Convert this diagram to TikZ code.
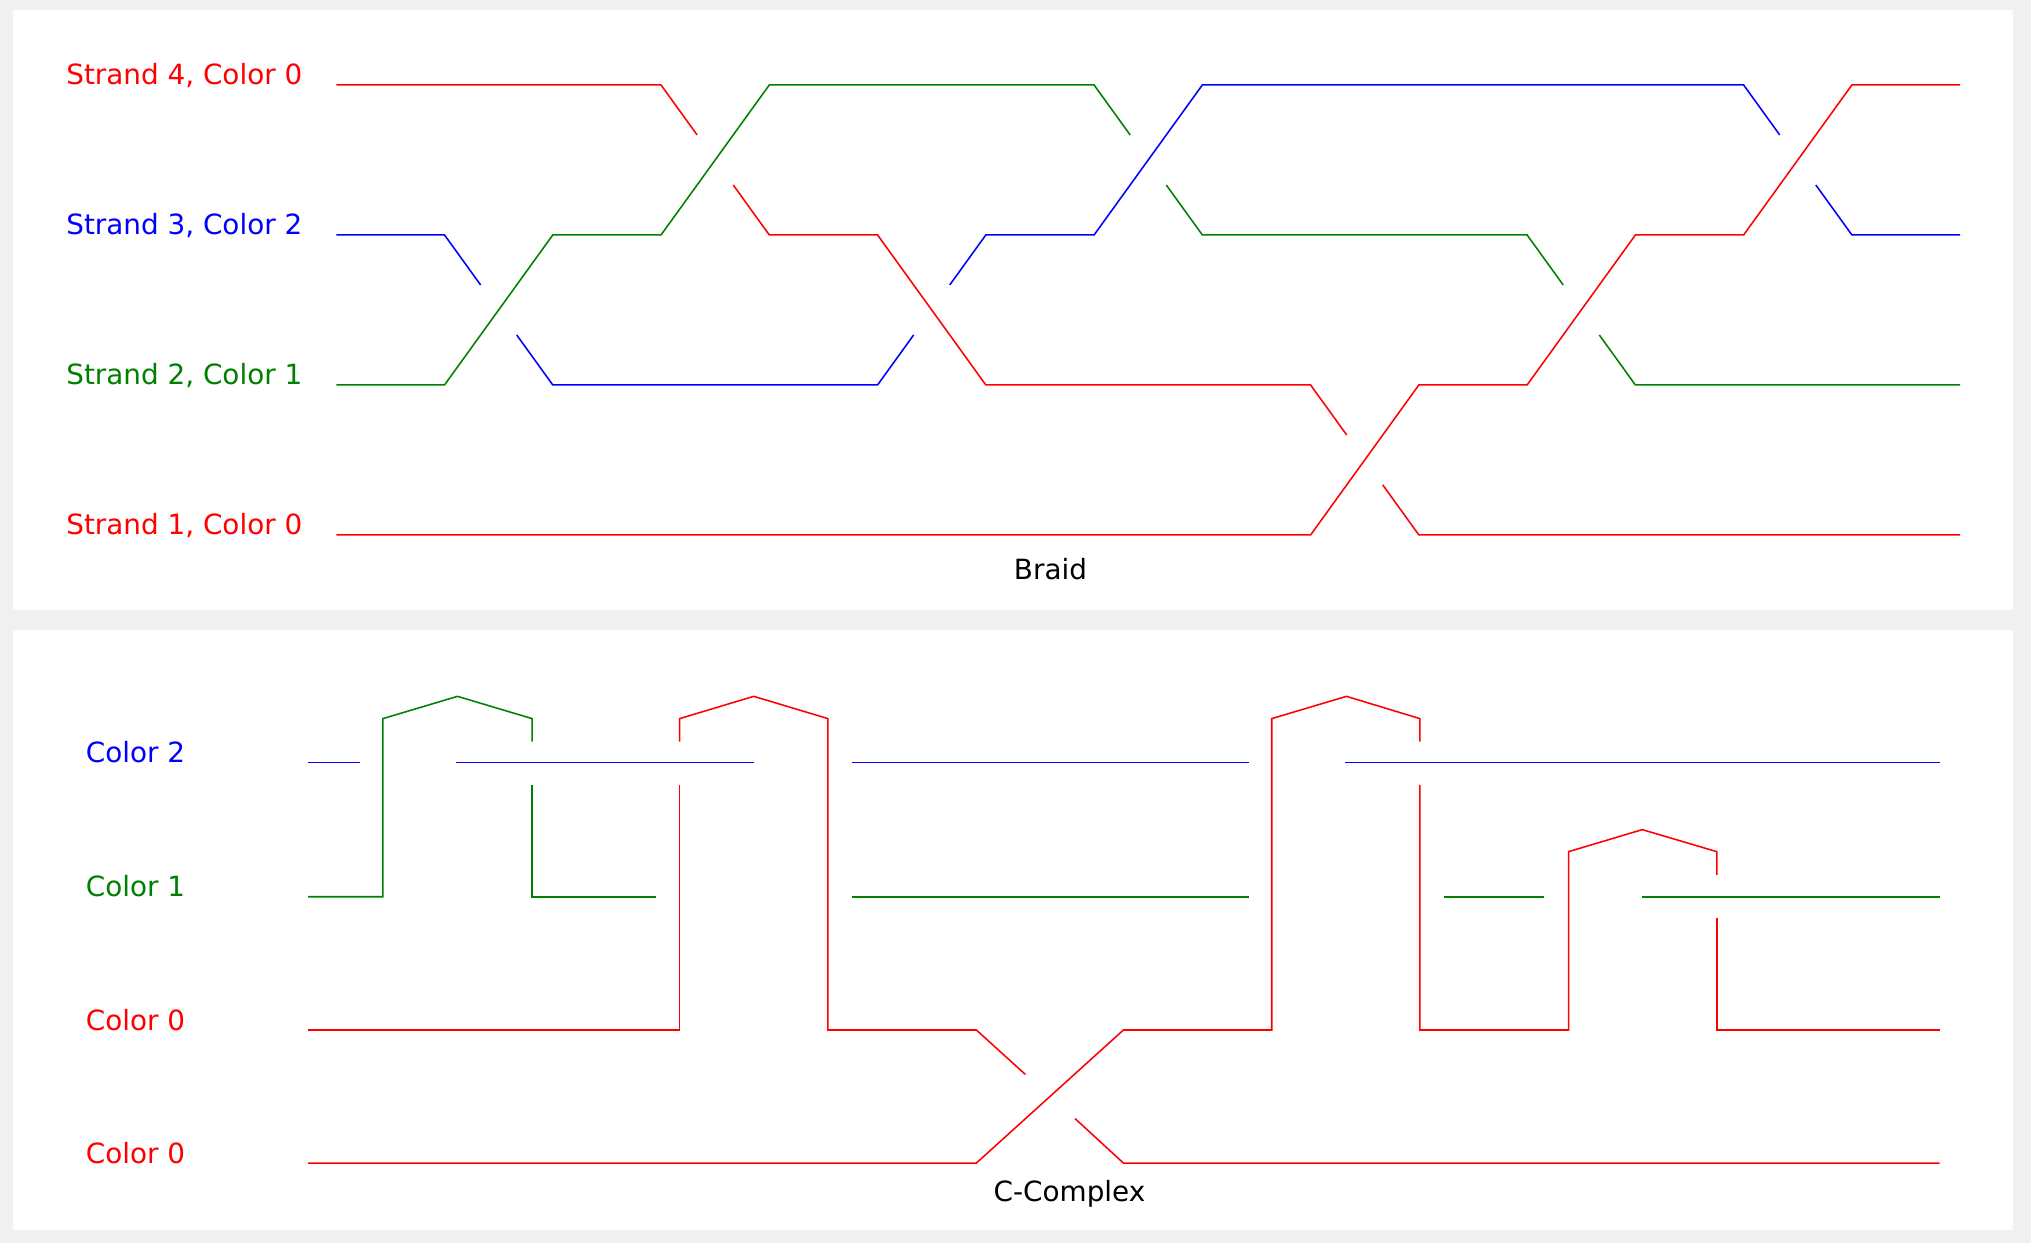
\documentclass[tikz,border=0pt]{standalone}
\usepackage{fontspec}
\setmainfont{DejaVu Sans}
\usetikzlibrary{calc}
\definecolor{mgreen}{HTML}{008000}
\definecolor{mred}{HTML}{FF0000}
\definecolor{mblue}{HTML}{0000FF}
\definecolor{bggray}{HTML}{F0F0F0}
\begin{document}
\begin{tikzpicture}[x=1pt,y=-1pt,
  strandline/.style={line width=1.2pt},
  cr/.style={strandline,draw=mred},
  cb/.style={strandline,draw=mblue},
  cg/.style={strandline,draw=mgreen},
  lbl/.style={inner sep=0pt,anchor=base west,font=\fontsize{21.5}{26}\selectfont},
  ttl/.style={inner sep=0pt,anchor=base,font=\fontsize{21.5}{26}\selectfont,text=black},
  panel/.style={fill=white,draw=none}]
\useasboundingbox (0,0) rectangle (1568,959.6);
\fill[bggray] (0,0) rectangle (1568,959.6);
\fill[panel] (9.7,7.7) rectangle (1553.7,470.9);
\fill[panel] (9.7,486.4) rectangle (1553.7,949.6);

% ---------- Braid ----------
\foreach \k in {0,...,15}{
  \foreach \l/\yy in {1/413.0,2/297.2,3/181.4,4/65.6}{
    \coordinate (b\k-\l) at ({259.6+83.58*\k},\yy);
  }
}
\node[lbl,text=mred]   (s4) at (51,65.6)  {Strand 4, Color 0};
\node[lbl,text=mblue]  (s3) at (51,181.4) {Strand 3, Color 2};
\node[lbl,text=mgreen] (s2) at (51,297.2) {Strand 2, Color 1};
\node[lbl,text=mred]   (s1) at (51,413.0) {Strand 1, Color 0};
\node[ttl] (braid) at (811,447.3) {Braid};

% red strand starting on level 4
\draw[cr] (b0-4) -- (b3-4) -- ($(b3-4)!1/3!(b4-3)$);
\draw[cr] ($(b3-4)!2/3!(b4-3)$) -- (b4-3) -- (b5-3) -- (b6-2) -- (b9-2) -- ($(b9-2)!1/3!(b10-1)$);
\draw[cr] ($(b9-2)!2/3!(b10-1)$) -- (b10-1) -- (b15-1);
% blue strand starting on level 3
\draw[cb] (b0-3) -- (b1-3) -- ($(b1-3)!1/3!(b2-2)$);
\draw[cb] ($(b1-3)!2/3!(b2-2)$) -- (b2-2) -- (b5-2) -- ($(b5-2)!1/3!(b6-3)$);
\draw[cb] ($(b5-2)!2/3!(b6-3)$) -- (b6-3) -- (b7-3) -- (b8-4) -- (b13-4) -- ($(b13-4)!1/3!(b14-3)$);
\draw[cb] ($(b13-4)!2/3!(b14-3)$) -- (b14-3) -- (b15-3);
% green strand starting on level 2
\draw[cg] (b0-2) -- (b1-2) -- (b2-3) -- (b3-3) -- (b4-4) -- (b7-4) -- ($(b7-4)!1/3!(b8-3)$);
\draw[cg] ($(b7-4)!2/3!(b8-3)$) -- (b8-3) -- (b11-3) -- ($(b11-3)!1/3!(b12-2)$);
\draw[cg] ($(b11-3)!2/3!(b12-2)$) -- (b12-2) -- (b15-2);
% red strand starting on level 1
\draw[cr] (b0-1) -- (b9-1) -- (b10-2) -- (b11-2) -- (b12-3) -- (b13-3) -- (b14-4) -- (b15-4);

% ---------- C-Complex ----------
\node[lbl,text=mblue]  (c2) at (66.1,588.8) {Color 2};
\node[lbl,text=mgreen] (c1) at (66.1,692.3) {Color 1};
\node[lbl,text=mred]   (c0a) at (66.1,795.2) {Color 0};
\node[lbl,text=mred]   (c0b) at (66.1,897.9) {Color 0};
\node[ttl] (ccx) at (825.7,927.7) {C-Complex};

% blue level (Color 2)
\draw[cb] (237.8,588.8) -- (278,588.8);
\draw[cb] (351.9,588.8) -- (582.3,588.8);
\draw[cb] (657.7,588.8) -- (964.3,588.8);
\draw[cb] (1038.2,588.8) -- (1497.5,588.8);
% green level (Color 1)
\draw[cg] (237.8,692.3) -- (295.6,692.3) -- (295.6,554.8) -- (353.2,537.6) -- (410.8,554.8) -- (410.8,572.6);
\draw[cg] (410.8,606) -- (410.8,692.3) -- (506.1,692.3);
\draw[cg] (657.7,692.3) -- (964.3,692.3);
\draw[cg] (1114.6,692.3) -- (1192.2,692.3);
\draw[cg] (1267.9,692.3) -- (1497.5,692.3);
% red strand A
\draw[cr] (237.8,795.2) -- (524.7,795.2) -- (524.7,606);
\draw[cr] (524.7,572.6) -- (524.7,554.8) -- (581.9,537.6) -- (639.2,554.8) -- (639.2,795.2) -- (753.8,795.2) -- (791.6,829.5);
\draw[cr] (830,863.6) -- (867.3,897.9) -- (1497.5,897.9);
% red strand B
\draw[cr] (237.8,897.9) -- (753.8,897.9) -- (867.3,795.2) -- (981.8,795.2) -- (981.8,554.8) -- (1039.5,537.6) -- (1096.2,554.8) -- (1096.2,572.6);
\draw[cr] (1096.2,606) -- (1096.2,795.2) -- (1211,795.2) -- (1211,657.5) -- (1267.9,640.5) -- (1325.4,657.5) -- (1325.4,675.5);
\draw[cr] (1325.4,708.7) -- (1325.4,795.2) -- (1497.5,795.2);
\end{tikzpicture}
\end{document}
